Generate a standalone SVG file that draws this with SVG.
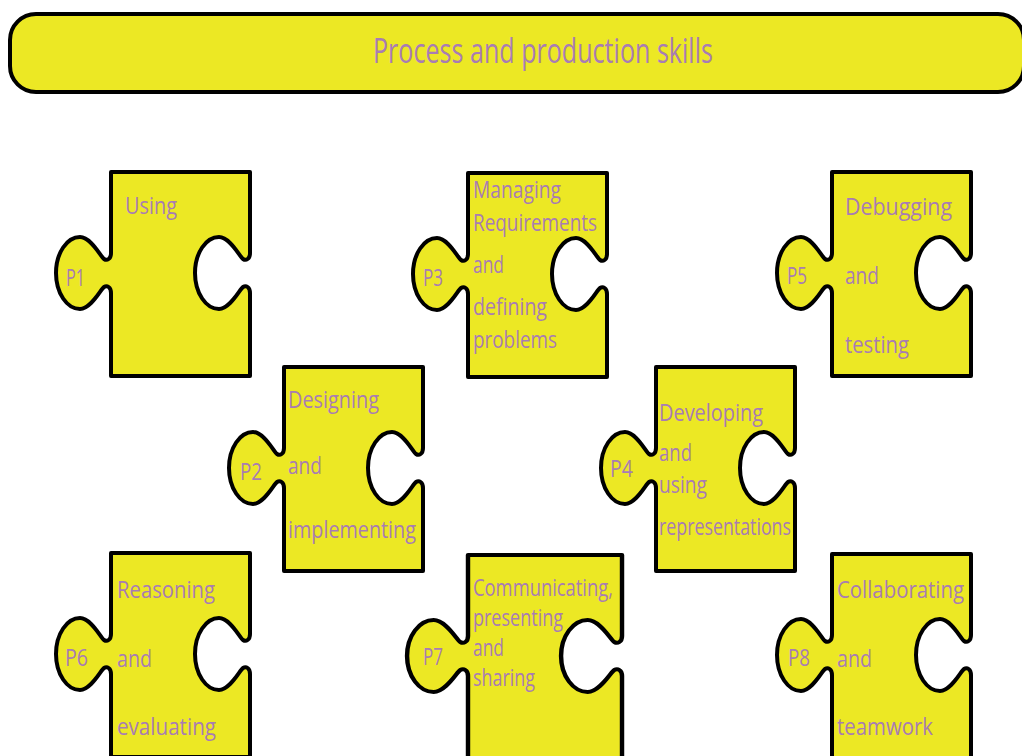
<svg xmlns="http://www.w3.org/2000/svg" xmlns:xlink="http://www.w3.org/1999/xlink" width="1022" height="756" viewBox="0 0 1022 756">
<style>
.pc{fill:#ECE824;stroke:#000;stroke-width:4;stroke-linejoin:round}
.t{font-family:"Open Sans","Liberation Sans",sans-serif;font-size:23px;fill:#A87CB4}
.lb{font-family:"Open Sans","Liberation Sans",sans-serif;font-size:24px;fill:#A87CB4}
.ttl{font-family:"Open Sans","Liberation Sans",sans-serif;font-size:34px;fill:#A87CB4}
</style>
<defs>
<path id="piece" d="M0,0 H139 V81 C139,87 135,89 132,87 C129,85 119,65 108,65 C95,65 84,81 84,101 C84,121 95,137 108,137 C119,137 129,117 132,115 C135,113 139,115 139,121 V204 H0 V121 C0,115 -4,113 -7,115 C-10,117 -20,137 -31,137 C-44,137 -55,121 -55,101 C-55,81 -44,65 -31,65 C-20,65 -10,85 -7,87 C-4,89 0,87 0,81 Z"/>
</defs>
<rect width="1022" height="756" fill="#fff"/>
<g id="title">
<rect x="10" y="14" width="1014" height="78" rx="26" class="pc"/>
<text x="373" y="63" class="ttl" textLength="340" lengthAdjust="spacingAndGlyphs">Process and production skills</text>
</g>
<g id="connectors"/>
<g id="P1">
<use xlink:href="#piece" href="#piece" class="pc" transform="translate(111,172)"/>
<text x="125" y="214" class="t" textLength="52" lengthAdjust="spacingAndGlyphs">Using</text>
<text x="66" y="286" class="lb" textLength="19" lengthAdjust="spacingAndGlyphs">P1</text>
</g>
<g id="P3">
<use xlink:href="#piece" href="#piece" class="pc" transform="translate(468,173)"/>
<text x="473" y="198" class="t" textLength="88" lengthAdjust="spacingAndGlyphs">Managing</text>
<text x="473" y="231" class="t" textLength="124" lengthAdjust="spacingAndGlyphs">Requirements</text>
<text x="473" y="273" class="t" textLength="31" lengthAdjust="spacingAndGlyphs">and</text>
<text x="473" y="315" class="t" textLength="74" lengthAdjust="spacingAndGlyphs">defining</text>
<text x="473" y="348" class="t" textLength="84" lengthAdjust="spacingAndGlyphs">problems</text>
<text x="423" y="286" class="lb" textLength="20" lengthAdjust="spacingAndGlyphs">P3</text>
</g>
<g id="P5">
<use xlink:href="#piece" href="#piece" class="pc" transform="translate(832,172)"/>
<text x="845" y="215" class="t" textLength="107" lengthAdjust="spacingAndGlyphs">Debugging</text>
<text x="845" y="284" class="t" textLength="34" lengthAdjust="spacingAndGlyphs">and</text>
<text x="845" y="353" class="t" textLength="64" lengthAdjust="spacingAndGlyphs">testing</text>
<text x="787" y="284" class="lb" textLength="20" lengthAdjust="spacingAndGlyphs">P5</text>
</g>
<g id="P2">
<use xlink:href="#piece" href="#piece" class="pc" transform="translate(284,367)"/>
<text x="288" y="408" class="t" textLength="91" lengthAdjust="spacingAndGlyphs">Designing</text>
<text x="288" y="474" class="t" textLength="34" lengthAdjust="spacingAndGlyphs">and</text>
<text x="288" y="538" class="t" textLength="128" lengthAdjust="spacingAndGlyphs">implementing</text>
<text x="240" y="480" class="lb" textLength="22" lengthAdjust="spacingAndGlyphs">P2</text>
</g>
<g id="P4">
<use xlink:href="#piece" href="#piece" class="pc" transform="translate(656,367)"/>
<text x="659" y="421" class="t" textLength="104" lengthAdjust="spacingAndGlyphs">Developing</text>
<text x="659" y="461" class="t" textLength="33" lengthAdjust="spacingAndGlyphs">and</text>
<text x="659" y="493" class="t" textLength="48" lengthAdjust="spacingAndGlyphs">using</text>
<text x="659" y="535" class="t" textLength="132" lengthAdjust="spacingAndGlyphs">representations</text>
<text x="610" y="477" class="lb" textLength="23" lengthAdjust="spacingAndGlyphs">P4</text>
</g>
<g id="P6">
<use xlink:href="#piece" href="#piece" class="pc" transform="translate(111,553)"/>
<text x="117" y="598" class="t" textLength="98" lengthAdjust="spacingAndGlyphs">Reasoning</text>
<text x="117" y="667" class="t" textLength="35" lengthAdjust="spacingAndGlyphs">and</text>
<text x="117" y="735" class="t" textLength="99" lengthAdjust="spacingAndGlyphs">evaluating</text>
<text x="65" y="666" class="lb" textLength="23" lengthAdjust="spacingAndGlyphs">P6</text>
</g>
<g id="P7">
<use xlink:href="#piece" href="#piece" class="pc" vector-effect="non-scaling-stroke" transform="translate(468,555) scale(1.108,1)"/>
<text x="473" y="596" class="t" textLength="140" lengthAdjust="spacingAndGlyphs">Communicating,</text>
<text x="473" y="626" class="t" textLength="90" lengthAdjust="spacingAndGlyphs">presenting</text>
<text x="473" y="656" class="t" textLength="31" lengthAdjust="spacingAndGlyphs">and</text>
<text x="473" y="686" class="t" textLength="62" lengthAdjust="spacingAndGlyphs">sharing</text>
<text x="423" y="665" class="lb" textLength="20" lengthAdjust="spacingAndGlyphs">P7</text>
</g>
<g id="P8">
<use xlink:href="#piece" href="#piece" class="pc" transform="translate(832,554)"/>
<text x="837" y="598" class="t" textLength="127" lengthAdjust="spacingAndGlyphs">Collaborating</text>
<text x="837" y="667" class="t" textLength="35" lengthAdjust="spacingAndGlyphs">and</text>
<text x="837" y="735" class="t" textLength="96" lengthAdjust="spacingAndGlyphs">teamwork</text>
<text x="788" y="666" class="lb" textLength="22" lengthAdjust="spacingAndGlyphs">P8</text>
</g>
</svg>
